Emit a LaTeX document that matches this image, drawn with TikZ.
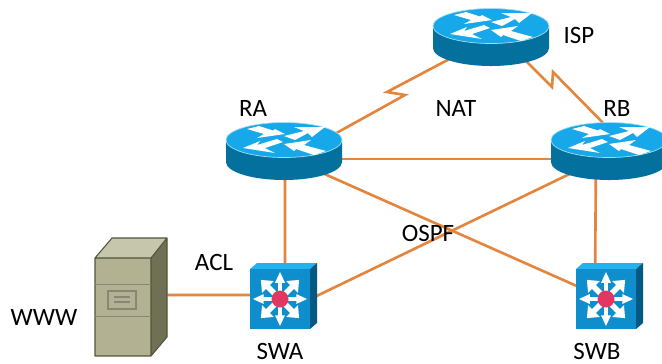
\documentclass[tikz,border=0pt]{standalone}
\usepackage{fontspec}
\setmainfont{Carlito}
\usepackage{xcolor}
\usepackage{tikz}
\definecolor{linkorange}{RGB}{228,133,62}
\definecolor{routertop}{RGB}{22,168,232}
\definecolor{routerside}{RGB}{3,112,158}
\definecolor{switchface}{RGB}{14,142,204}
\definecolor{switchtop}{RGB}{34,178,238}
\definecolor{switchside}{RGB}{4,88,132}
\definecolor{hubred}{RGB}{226,55,98}
\definecolor{serverface}{RGB}{178,178,146}
\definecolor{servertop}{RGB}{198,198,172}
\definecolor{serverside}{RGB}{112,112,84}
\definecolor{serveredge}{RGB}{82,84,60}
\tikzset{
  link/.style={draw=linkorange,line width=1.5pt,line join=miter},
  label/.style={font=\fontsize{14.2pt}{16pt}\selectfont,text=black,inner sep=0pt},
  routernode/.style={inner sep=0pt,minimum width=2.34cm,minimum height=1.16cm},
  switchnode/.style={inner sep=0pt,minimum width=1.2cm,minimum height=1.2cm},
  servernode/.style={inner sep=0pt,minimum width=1.44cm,minimum height=2.36cm},
}
% router icon on top of its node
\newcommand{\router}[1]{
  \begin{scope}[shift={(#1.center)}]
    \fill[routerside] (-58,-11) -- (-58,11) arc[start angle=180,end angle=0,x radius=58,y radius=18] -- (58,-11) -- cycle;
    \fill[routertop,draw=white!60!routertop,line width=0.4pt] (0,-11) ellipse[x radius=58,y radius=17.5];
    \begin{scope}[shift={(0,-11)},white]
      \fill (-37,-11) -- (-25,-14) -- (-11,-9.5) -- (-9,-11) -- (1,-6) -- (-27,-2) -- (-20,-6) -- cycle;
      \fill (0,-4) -- (20,-9) -- (10,-13) -- (41,-13) -- (28,-3) -- (24,-7) -- (11,0) -- cycle;
      \fill (-41,8) -- (-24,1) -- (-27,5) -- (-7,-1) -- (-1,2) -- (-19,8) -- (-9,13) -- cycle;
      \fill (0,4) -- (27,0) -- (20,5) -- (42,11) -- (30,15) -- (12,9) -- (10,11) -- cycle;
    \end{scope}
  \end{scope}
}
% switch icon, the node is the front face
\newcommand{\switchicon}[1]{
  \begin{scope}[shift={(#1.center)}]
    \fill[switchtop] (-30,-30) -- (-23,-36) -- (37,-36) -- (30,-30) -- cycle;
    \fill[switchside] (30,-30) -- (37,-36) -- (37,24) -- (30,30) -- cycle;
    \fill[switchface] (-30,-30) rectangle (30,30);
    \foreach \ang in {0,90,180,270}{
      \draw[white,line width=1.9pt] (0,0) -- (\ang:20);
      \fill[white] (\ang:27) -- (\ang+17:17) -- (\ang-17:17) -- cycle;
    }
    \foreach \ang in {45,135,225,315}{
      \draw[white,line width=3.2pt] (0,0) -- (\ang:19);
      \fill[white] (\ang:27) -- (\ang+26:19) -- (\ang-26:19) -- cycle;
    }
    \fill[hubred] (0,0) circle (8.5);
  \end{scope}
}
\begin{document}
\begin{tikzpicture}[x=0.02cm,y=-0.02cm]
  \useasboundingbox (0,0) rectangle (662,363);

  \coordinate (ispa) at (405,95);
  \coordinate (ispb) at (387,92);
  \coordinate (rba) at (552,87);
  \coordinate (rbb) at (553,72);

  \node[servernode] at (131,297) (WWW) {};
  \node[routernode] at (284,151) (RA) {};
  \node[routernode] at (491,37) (ISP) {};
  \node[routernode] at (609,151) (RB) {};
  \node[switchnode] at (280,299) (SWA) {};
  \node[switchnode] at (606,299) (SWB) {};

  % links go under the icons
  \draw[link] ([yshift=-6.3pt]RA.center) -- (ispa) -- (ispb) -- (ISP.center);
  \draw[link] ([yshift=6.3pt]ISP.center) -- (rba) -- (rbb) -- ([yshift=12.5pt]RB.center);
  \draw[link] ([yshift=-4.55pt]RA.center) -- ([yshift=-4.55pt]RB.center);
  \draw[link] ([xshift=0.57pt]RA.center) -- ([xshift=2.85pt]SWA.center);
  \draw[link] ([xshift=-7.4pt]RB.center) -- ([xshift=-6.3pt]SWB.center);
  \draw[link] ([yshift=-2.85pt]RA.center) -- (SWB.center);
  \draw[link] ([yshift=-2.28pt]RB.center) -- (SWA.east);
  \draw[link] ([yshift=1.14pt]WWW.east) -- ([yshift=2.28pt]SWA.center);

  % server
  \fill[servertop] (95,258) -- (112,238) -- (167,238) -- (151,258) -- cycle;
  \fill[serverside] (151,258) -- (167,238) -- (167,337) -- (151,356) -- cycle;
  \fill[serverface] (95,258) rectangle (151,356);
  \draw[serveredge,line width=0.6pt,line join=round] (95,258) -- (112,238) -- (167,238) -- (167,337) -- (151,356) -- (95,356) -- cycle (95,258) -- (151,258) -- (167,238) (151,258) -- (151,356);
  \draw[serveredge!70,line width=0.5pt] (95,284) -- (151,284) (95,316) -- (151,316);
  \draw[serveredge!70,line width=0.6pt] (108,291) rectangle (136,309) (114,297) -- (130,297) (114,302) -- (130,302);

  \router{RA}
  \router{ISP}
  \router{RB}
  \switchicon{SWA}
  \switchicon{SWB}

  \node[label] at (579,35) (ISPtext) {ISP};
  \node[label] at (253,108) (RAtext) {RA};
  \node[label] at (617,108) (RBtext) {RB};
  \node[label] at (456,108) (NATtext) {NAT};
  \node[label] at (428,233) (OSPFtext) {OSPF};
  \node[label] at (214,262) (ACLtext) {ACL};
  \node[label] at (44,317) (WWWtext) {WWW};
  \node[label] at (280,351) (SWAtext) {SWA};
  \node[label] at (597,351) (SWBtext) {SWB};
\end{tikzpicture}
\end{document}
